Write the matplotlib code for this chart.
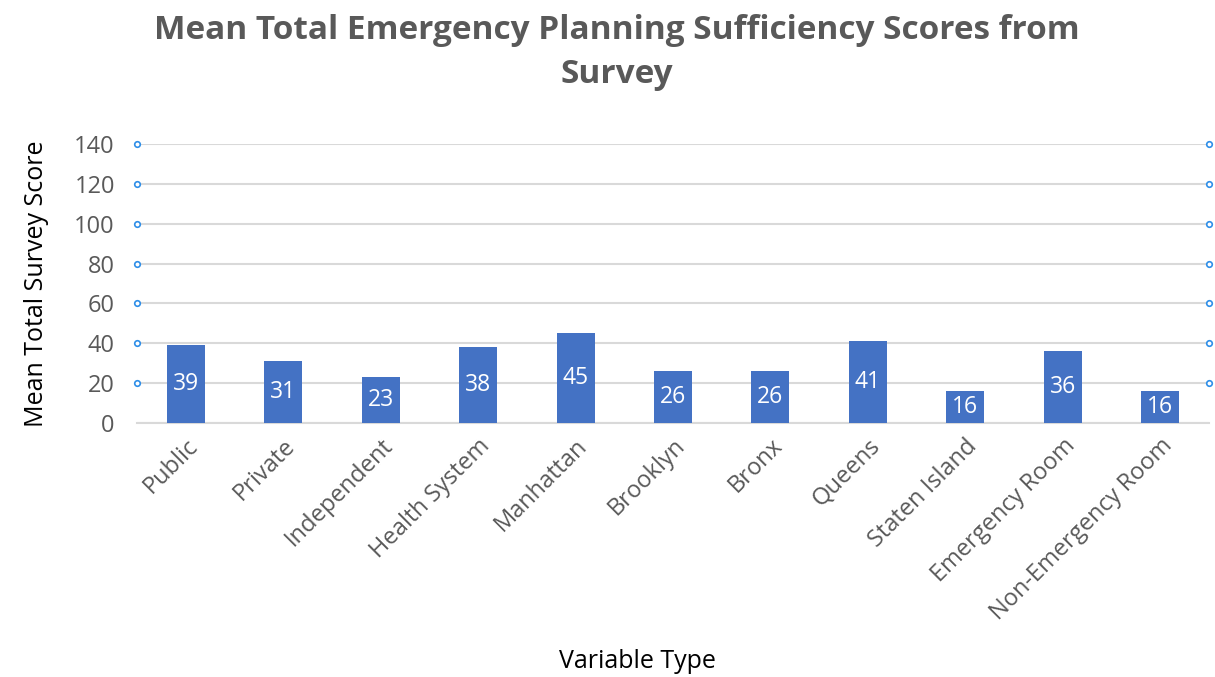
import matplotlib.pyplot as plt
import numpy as np

plt.rcParams['font.family'] = ['Open Sans', 'DejaVu Sans']

categories = ['Public', 'Private', 'Independent', 'Health System', 'Manhattan',
              'Brooklyn', 'Bronx', 'Queens', 'Staten Island', 'Emergency Room',
              'Non-Emergency Room']
scores = [39, 31, 23, 38, 45, 26, 26, 41, 16, 36, 16]
yticks = [0, 20, 40, 60, 80, 100, 120, 140]

text_col = '#595959'
bar_col = '#4472C4'

fig = plt.figure(figsize=(12.15, 6.77), dpi=100)
ax = fig.add_axes([0.1128, 0.3752, 0.8822, 0.412])

x = np.arange(len(categories))
bars = ax.bar(x, scores, width=0.39, color=bar_col, zorder=3)
for b, v in zip(bars, scores):
    ax.text(b.get_x() + b.get_width() / 2, v / 2, str(v), ha='center', va='center',
            color='white', fontsize=16.5, zorder=4)

ax.set_xlim(-0.5, len(categories) - 0.5)
ax.set_ylim(0, 140)
ax.set_yticks(yticks)
ax.yaxis.grid(True, color='#d9d9d9', linewidth=1.5, zorder=0)
ax.set_axisbelow(True)
for s in ['top', 'right', 'left']:
    ax.spines[s].set_visible(False)
ax.spines['bottom'].set_color('#d9d9d9')
ax.spines['bottom'].set_linewidth(1.5)
ax.tick_params(axis='both', length=0, colors=text_col, labelsize=17)
ax.tick_params(axis='y', pad=16)

# selection handles along the gridlines
handle_y = yticks[1:]
for xe in (-0.5, len(categories) - 0.5):
    ax.plot([xe] * len(handle_y), handle_y, 'o', ms=4, mfc='white', mec='#2e8ee8',
            mew=1.2, clip_on=False, zorder=5)

ax.set_xticks(x)
ax.set_xticklabels(categories, rotation=45, ha='right', rotation_mode='anchor')
ax.tick_params(axis='x', pad=8)

ax.set_ylabel('Mean Total Survey Score', fontsize=18, color='black', labelpad=18)
fig.text(0.525, 0.005, 'Variable Type', ha='center', va='bottom', fontsize=18, color='black')
fig.text(0.508, 0.98, 'Mean Total Emergency Planning Sufficiency Scores from\nSurvey',
         ha='center', va='top', fontsize=24, fontweight='bold', color=text_col,
         linespacing=1.45)

fig.savefig('out.png', dpi=100)
